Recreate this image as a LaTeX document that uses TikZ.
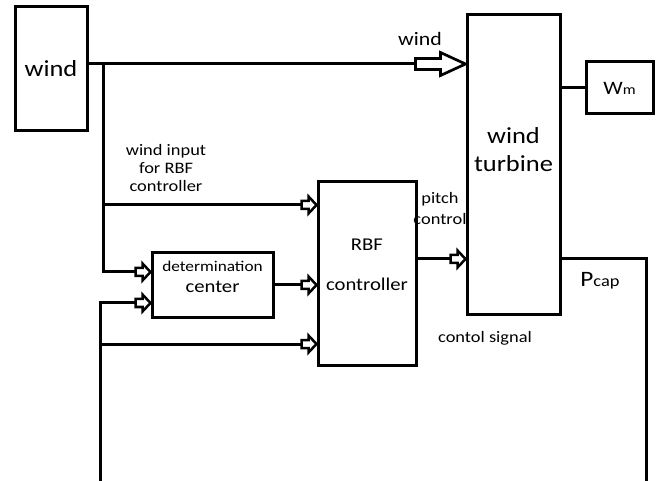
\documentclass[tikz,border=0pt]{standalone}
\usepackage{fontspec}
\setmainfont[FakeStretch=1.15]{Carlito}

\begin{document}
\begin{tikzpicture}[x=1pt,y=-1pt,
	box/.style={draw,line width=3pt,inner sep=0pt},
	wire/.style={line width=3pt},
	lbl/.style={inner sep=0pt,align=center},
	harrow/.pic={\draw[line width=2.5pt,fill=white,line join=miter] (-15,-4) -- (-8,-4) -- (-8,-8.5) -- (0,0) -- (-8,8.5) -- (-8,4) -- (-15,4) -- cycle;},
	bigarrow/.pic={\draw[line width=2.7pt,fill=white,line join=miter] (-50,-5.5) -- (-25,-5.5) -- (-25,-11.5) -- (0,0) -- (-25,11.5) -- (-25,5.5) -- (-50,5.5) -- cycle;}]
	\useasboundingbox (0,0) rectangle (659,481);
	\node[box,minimum width=72,minimum height=124,font=\fontsize{23}{23}\selectfont] (wind) at (51,69) {wind};
	\node[box,minimum width=93,minimum height=299] (turb) at (513.5,164.5) {};
	\node[box,minimum width=67,minimum height=52,font=\fontsize{19}{19}\selectfont] (wm) at (619.5,88) {W{\fontsize{14}{14}\selectfont m}};
	\node[box,minimum width=98,minimum height=183] (rbf) at (367,273.5) {};
	\node[box,minimum width=121,minimum height=64] (det) at (212.5,285) {};
	\node[lbl,font=\fontsize{23}{28}\selectfont] (turbtxt) at (513.5,150) {wind\\turbine};
	\node[lbl,font=\fontsize{18}{40}\selectfont] (rbftxt) at (367,265) {RBF\\controller};
	\node[lbl,font=\fontsize{15}{21}\selectfont] (dettxt) at (212.5,277) {determination\\{\fontsize{18}{21}\selectfont center}};
	\coordinate (j1) at (103,64);
	\coordinate (j2) at (103,205);
	\coordinate (j3) at (103,272);
	\coordinate (k1) at (100,303);
	\coordinate (k2) at (100,344);
	\coordinate (k3) at (100,481);
	\coordinate (p1) at (646,259);
	\coordinate (p2) at (646,481);
	\draw[wire,shorten >=49pt] (wind.east |- j1) -- (turb.west |- j1);
	\pic at (turb.west |- j1) {bigarrow};
	\draw[wire,shorten >=14pt] (j1) -- (j3) -- (det.west |- j3);
	\pic at (det.west |- j3) {harrow};
	\draw[wire,shorten >=14pt] (j2) -- (rbf.west |- j2);
	\pic at (rbf.west |- j2) {harrow};
	\draw[wire,shorten >=14pt] (k3) -- (k1) -- (det.west |- k1);
	\pic at (det.west |- k1) {harrow};
	\draw[wire,shorten >=14pt] (k2) -- (rbf.west |- k2);
	\pic at (rbf.west |- k2) {harrow};
	\draw[wire,shorten >=14pt] (det.east) -- (rbf.west |- det.east);
	\pic at (rbf.west |- det.east) {harrow};
	\draw[wire,shorten >=14pt] (rbf.east |- p1) -- (turb.west |- p1);
	\pic at (turb.west |- p1) {harrow};
	\draw[wire] (turb.east |- p1) -- (p1) -- (p2);
	\draw[wire] (turb.east |- wm.west) -- (wm.west);
	\node[lbl,font=\fontsize{19}{19}\selectfont] (lwind) at (420,39) {wind};
	\node[lbl,font=\fontsize{16}{18}\selectfont] (lin) at (166,168) {wind input\\for RBF\\controller};
	\node[lbl,font=\fontsize{16}{21}\selectfont] (lpitch) at (440,209) {pitch\\control};
	\node[lbl,font=\fontsize{16}{16}\selectfont] (lsig) at (485,338) {contol signal};
	\node[lbl,font=\fontsize{22}{22}\selectfont] (lpcap) at (600,281) {P{\fontsize{16}{16}\selectfont cap}};
\end{tikzpicture}
\end{document}
